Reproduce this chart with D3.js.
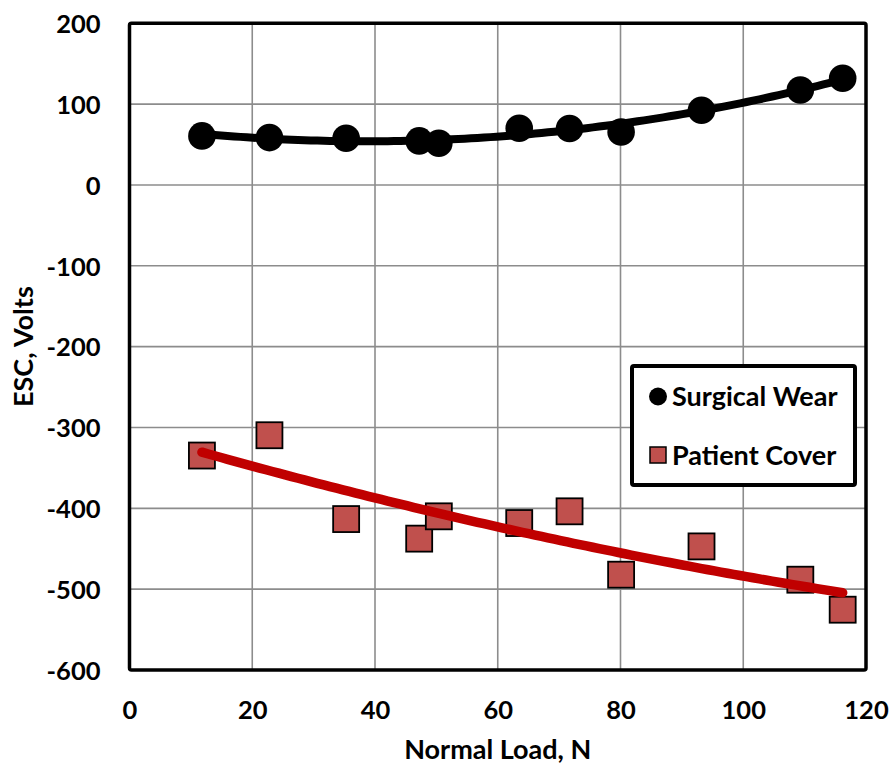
<!DOCTYPE html>
<html>
<head>
<meta charset="utf-8">
<script src="https://cdn.jsdelivr.net/npm/d3@7"></script>
<style>
  html, body { margin: 0; padding: 0; background: #fff; }
  svg { display: block; }
  text { font-family: Lato, "Open Sans", sans-serif; font-weight: bold; fill: #000; }
</style>
</head>
<body>
<svg id="chart" width="896" height="770"></svg>
<script>
// ---- data ----
const loads = [11.8, 22.8, 35.3, 47.2, 50.4, 63.5, 71.7, 80.1, 93.2, 109.3, 116.2];
const surgicalWear = [60.7, 58.6, 57.8, 54.5, 51.6, 70.2, 69.8, 65.5, 92.5, 117.5, 132.0];
const patientCover = [-334.7, -309.6, -413.3, -437.5, -409.9, -418.2, -403.7, -482.1, -447.1, -488.3, -525.4];
const xTicks = [0, 20, 40, 60, 80, 100, 120];
const yTicks = [200, 100, 0, -100, -200, -300, -400, -500, -600];
const seriesNames = ["Surgical Wear", "Patient Cover"];
const xTitle = "Normal Load, N";
const yTitle = "ESC, Volts";

// ---- layout ----
const svg = d3.select("#chart");
const L = 129.5, T = 23.3, R = 866, B = 670;
const x = d3.scaleLinear().domain([0, 120]).range([L, R]);
const y = d3.scaleLinear().domain([-600, 200]).range([B, T]);

// quadratic least-squares trendline
function quadFit(xs, ys) {
  let S = [0,0,0,0,0], Sy = [0,0,0];
  xs.forEach((xi, i) => {
    for (let k = 0; k < 5; k++) S[k] += Math.pow(xi, k);
    for (let k = 0; k < 3; k++) Sy[k] += Math.pow(xi, k) * ys[i];
  });
  const M = [[S[0],S[1],S[2],Sy[0]],[S[1],S[2],S[3],Sy[1]],[S[2],S[3],S[4],Sy[2]]];
  for (let c = 0; c < 3; c++) {
    for (let r = c + 1; r < 3; r++) {
      const f = M[r][c] / M[c][c];
      for (let k = c; k < 4; k++) M[r][k] -= f * M[c][k];
    }
  }
  const coef = [0,0,0];
  for (let r = 2; r >= 0; r--) {
    let s = M[r][3];
    for (let k = r + 1; k < 3; k++) s -= M[r][k] * coef[k];
    coef[r] = s / M[r][r];
  }
  return v => coef[0] + coef[1] * v + coef[2] * v * v;
}

// gridlines
const grid = svg.append("g");
grid.selectAll("line.gx").data(xTicks).join("line")
  .attr("x1", d => x(d)).attr("x2", d => x(d)).attr("y1", T).attr("y2", B)
  .attr("stroke", "#8c8c8c").attr("stroke-width", 1.6);
grid.selectAll("line.gy").data(yTicks).join("line")
  .attr("x1", L).attr("x2", R).attr("y1", d => y(d)).attr("y2", d => y(d))
  .attr("stroke", "#8c8c8c").attr("stroke-width", 1.6);

const fmt = d => String(d);

// axes (labels only)
const xAxis = svg.append("g").attr("transform", `translate(0,${B})`)
  .call(d3.axisBottom(x).tickValues(xTicks).tickFormat(fmt).tickSize(0).tickPadding(0));
xAxis.select(".domain").remove();
xAxis.selectAll("text").attr("y", 48.5).attr("dy", 0).style("font-size", "25.5px")
  .style("font-family", "Lato, sans-serif").style("font-weight", "bold");

const yAxis = svg.append("g").attr("transform", `translate(${L},0)`)
  .call(d3.axisLeft(y).tickValues(yTicks).tickFormat(fmt).tickSize(0).tickPadding(0));
yAxis.select(".domain").remove();
yAxis.selectAll("text").attr("x", -29).attr("dy", "0.36em").style("font-size", "25.5px")
  .style("font-family", "Lato, sans-serif").style("font-weight", "bold");

// markers
svg.append("g").selectAll("rect").data(loads).join("rect")
  .attr("x", (d, i) => x(d) - 13).attr("y", (d, i) => y(patientCover[i]) - 13)
  .attr("width", 26).attr("height", 26)
  .attr("fill", "#C0504D").attr("stroke", "#000").attr("stroke-width", 1.8);

svg.append("g").selectAll("circle").data(loads).join("circle")
  .attr("cx", d => x(d)).attr("cy", (d, i) => y(surgicalWear[i])).attr("r", 13.8)
  .attr("fill", "#000");

// trendlines
const xr = d3.range(0, 101).map(i => d3.min(loads) + (d3.max(loads) - d3.min(loads)) * i / 100);
const fW = quadFit(loads, surgicalWear);
const fP = quadFit(loads, patientCover);
const line = d3.line().x(d => x(d[0])).y(d => y(d[1]));
svg.append("path").datum(xr.map(v => [v, fW(v)])).attr("d", line)
  .attr("fill", "none").attr("stroke", "#000").attr("stroke-width", 8).attr("stroke-linecap", "round");
svg.append("path").datum(xr.map(v => [v, fP(v)])).attr("d", line)
  .attr("fill", "none").attr("stroke", "#C00000").attr("stroke-width", 9.5).attr("stroke-linecap", "round");

// frame
svg.append("rect").attr("x", L).attr("y", T).attr("width", R - L).attr("height", B - T)
  .attr("fill", "none").attr("stroke", "#000").attr("stroke-width", 3.5).attr("rx", 2);

// axis titles
svg.append("text").attr("x", (L + R) / 2).attr("y", 759).attr("text-anchor", "middle")
  .style("font-size", "27px").text(xTitle);
svg.append("text").attr("transform", `translate(33,${(T + B) / 2}) rotate(-90)`)
  .attr("text-anchor", "middle").style("font-size", "27px").text(yTitle);

// legend
const lg = svg.append("g");
lg.append("rect").attr("x", 632).attr("y", 366).attr("width", 223).attr("height", 119)
  .attr("fill", "#fff").attr("stroke", "#000").attr("stroke-width", 4).attr("rx", 2);
lg.append("circle").attr("cx", 658).attr("cy", 396.5).attr("r", 9).attr("fill", "#000");
lg.append("rect").attr("x", 650).attr("y", 447).attr("width", 16).attr("height", 16)
  .attr("fill", "#C0504D").attr("stroke", "#000").attr("stroke-width", 1.5);
lg.append("text").attr("x", 672).attr("y", 405.5).style("font-size", "27px").text(seriesNames[0]);
lg.append("text").attr("x", 672).attr("y", 464.5).style("font-size", "27px").text(seriesNames[1]);
</script>
</body>
</html>
